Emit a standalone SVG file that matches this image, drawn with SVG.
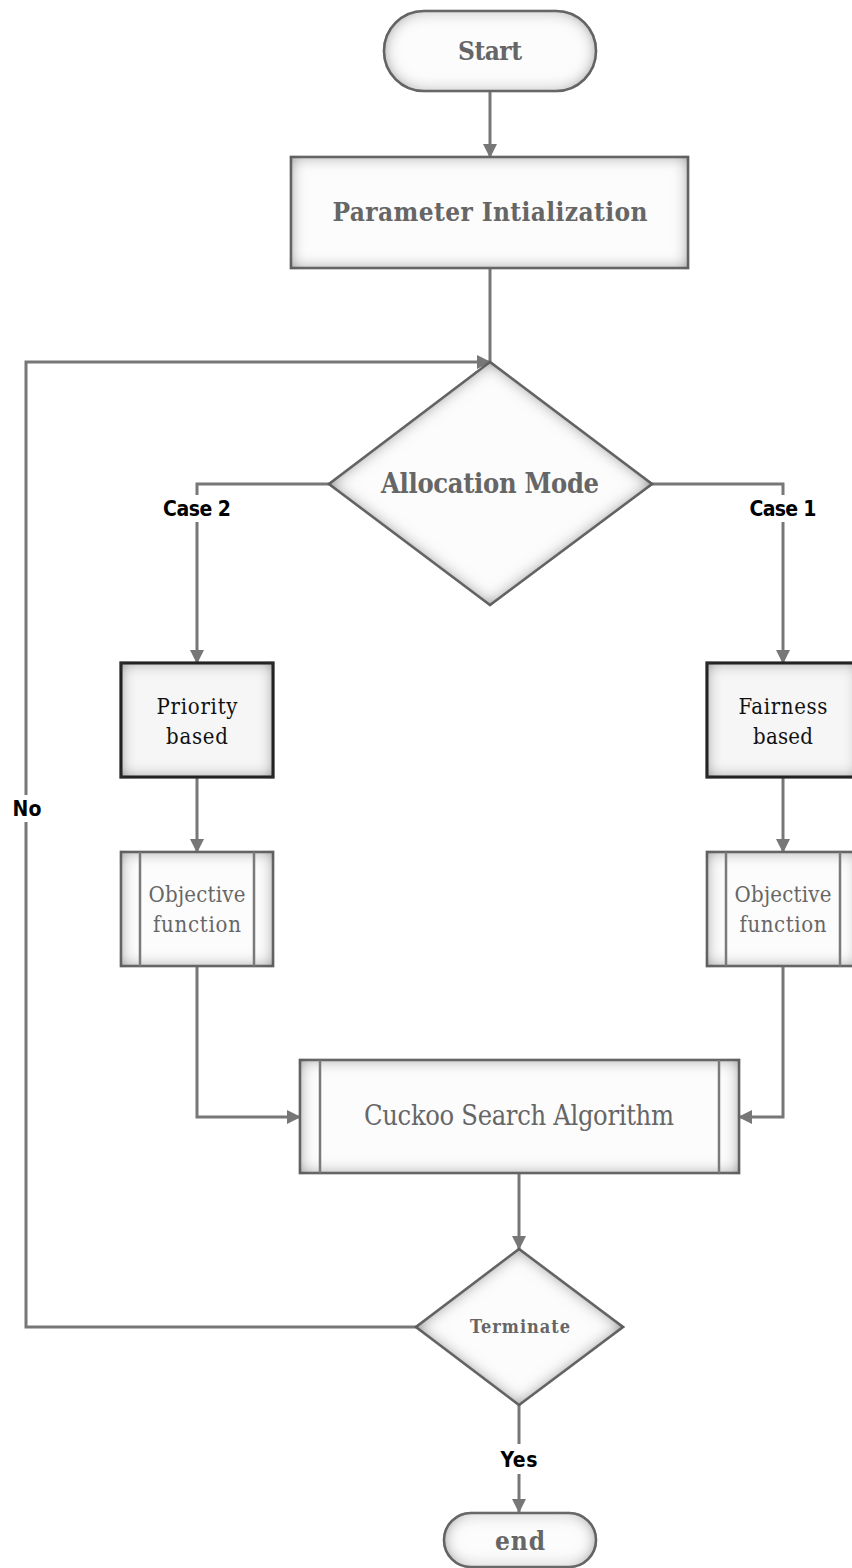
<svg xmlns="http://www.w3.org/2000/svg" width="852" height="1568" viewBox="0 0 852 1568">
  <defs>
    <style>
      .node { fill: #fcfcfc; stroke: #6e6e6e; stroke-width: 2.5; }
      .dark { fill: #f6f6f6; stroke: #1e1e1e; stroke-width: 3; }
      .bar { stroke: #7a7a7a; stroke-width: 2.5; fill: none; }
      .conn { fill: none; stroke: #777; stroke-width: 3; }
      .t { font-family: "DejaVu Serif Condensed", "DejaVu Serif", "Liberation Serif", serif; text-anchor: middle; fill: #666; }
      .tb { font-weight: bold; }
      .tk { fill: #111; }
      .lbl { font-family: "DejaVu Sans Condensed", "Liberation Sans Narrow", "Liberation Sans", sans-serif; text-anchor: middle; fill: #000; font-size: 21px; font-weight: 600; }
    </style>
    <!-- soft grey vignette inside each shape -->
    <filter id="inner" x="-10%" y="-10%" width="120%" height="120%">
      <feFlood flood-color="#555" result="c"/>
      <feComposite in="c" in2="SourceAlpha" operator="out" result="o"/>
      <feGaussianBlur in="o" stdDeviation="8" result="b"/>
      <feComposite in="b" in2="SourceAlpha" operator="in" result="s"/>
      <feMerge><feMergeNode in="SourceGraphic"/><feMergeNode in="s"/></feMerge>
    </filter>
    <filter id="innerDark" x="-10%" y="-10%" width="120%" height="120%">
      <feFlood flood-color="#333" result="c"/>
      <feComposite in="c" in2="SourceAlpha" operator="out" result="o"/>
      <feGaussianBlur in="o" stdDeviation="8" result="b"/>
      <feComposite in="b" in2="SourceAlpha" operator="in" result="s"/>
      <feMerge><feMergeNode in="SourceGraphic"/><feMergeNode in="s"/></feMerge>
    </filter>
    <marker id="arrow" viewBox="0 0 14 14" markerWidth="14" markerHeight="14" refX="13" refY="7" orient="auto" markerUnits="userSpaceOnUse">
      <path d="M0,0 L14,7 L0,14 z" fill="#777"/>
    </marker>
  </defs>

  <!-- connectors -->
  <g id="connectors">
    <path class="conn" d="M490,91 V157" marker-end="url(#arrow)"/>
    <path class="conn" d="M490,268 V362"/>
    <path class="conn" d="M416,1327 H26 V822"/>
    <path class="conn" d="M26,795 V362 H490" marker-end="url(#arrow)"/>
    <path class="conn" d="M329,484 H197 V495"/>
    <path class="conn" d="M197,522 V663" marker-end="url(#arrow)"/>
    <path class="conn" d="M652,484 H783 V495"/>
    <path class="conn" d="M783,522 V663" marker-end="url(#arrow)"/>
    <path class="conn" d="M197,777 V852" marker-end="url(#arrow)"/>
    <path class="conn" d="M783,777 V852" marker-end="url(#arrow)"/>
    <path class="conn" d="M197,966 V1117 H300" marker-end="url(#arrow)"/>
    <path class="conn" d="M783,966 V1117 H739" marker-end="url(#arrow)"/>
    <path class="conn" d="M519,1173 V1249" marker-end="url(#arrow)"/>
    <path class="conn" d="M519,1405 V1444"/>
    <path class="conn" d="M519,1474 V1512" marker-end="url(#arrow)"/>
    <text class="lbl" x="197" y="516" textLength="68">Case 2</text>
    <text class="lbl" x="783" y="516" textLength="67">Case 1</text>
    <text class="lbl" x="27" y="816" textLength="29">No</text>
    <text class="lbl" x="519" y="1467" textLength="37">Yes</text>
  </g>

  <g id="start">
    <rect class="node" x="384" y="11" width="212" height="80" rx="40" filter="url(#inner)"/>
    <text class="t tb" x="490" y="60" font-size="26" textLength="64">Start</text>
  </g>

  <g id="param-init">
    <rect class="node" x="291" y="157" width="397" height="111" filter="url(#inner)"/>
    <text class="t tb" x="490" y="221" font-size="26" textLength="315">Parameter Intialization</text>
  </g>

  <g id="allocation-mode">
    <polygon class="node" points="490,362 652,484 490,605 329,484" filter="url(#inner)"/>
    <text class="t tb" x="490" y="493" font-size="27" textLength="218">Allocation Mode</text>
  </g>

  <g id="priority-based">
    <rect class="dark" x="121" y="663" width="152" height="114" filter="url(#innerDark)"/>
    <text class="t tk" x="197" y="714" font-size="22" textLength="81">Priority</text>
    <text class="t tk" x="197" y="744" font-size="22" textLength="62">based</text>
  </g>

  <g id="fairness-based">
    <rect class="dark" x="707" y="663" width="152" height="114" filter="url(#innerDark)"/>
    <text class="t tk" x="783" y="714" font-size="22" textLength="89">Fairness</text>
    <text class="t tk" x="783" y="744" font-size="22" textLength="60">based</text>
  </g>

  <g id="objective-left">
    <rect class="node" x="121" y="852" width="152" height="114" filter="url(#inner)"/>
    <path class="bar" d="M140,852 V966 M254,852 V966"/>
    <text class="t" x="197" y="902" font-size="22" textLength="97">Objective</text>
    <text class="t" x="197" y="932" font-size="22" textLength="88">function</text>
  </g>

  <g id="objective-right">
    <rect class="node" x="707" y="852" width="152" height="114" filter="url(#inner)"/>
    <path class="bar" d="M726,852 V966 M840,852 V966"/>
    <text class="t" x="783" y="902" font-size="22" textLength="97">Objective</text>
    <text class="t" x="783" y="932" font-size="22" textLength="87">function</text>
  </g>

  <g id="cuckoo-search">
    <rect class="node" x="300" y="1060" width="439" height="113" filter="url(#inner)"/>
    <path class="bar" d="M320,1060 V1173 M719,1060 V1173"/>
    <text class="t" x="519" y="1125" font-size="27" textLength="310">Cuckoo Search Algorithm</text>
  </g>

  <g id="terminate">
    <polygon class="node" points="519,1249 623,1327 519,1405 416,1327" filter="url(#inner)"/>
    <text class="t tb" x="520" y="1333" font-size="18" textLength="100">Terminate</text>
  </g>

  <g id="end">
    <rect class="node" x="444" y="1513" width="152" height="54" rx="27" filter="url(#inner)"/>
    <text class="t tb" x="520" y="1550" font-size="26" textLength="50">end</text>
  </g>
</svg>
